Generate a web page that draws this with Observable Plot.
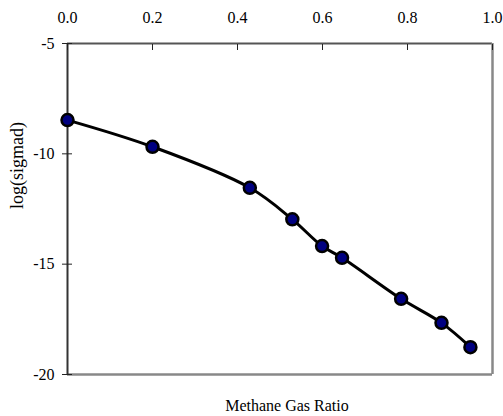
<!DOCTYPE html>
<html>
<head>
<meta charset="utf-8">
<script src="https://cdn.jsdelivr.net/npm/d3@7"></script>
<script src="https://cdn.jsdelivr.net/npm/@observablehq/plot@0.6"></script>
<style>
  html, body { margin: 0; padding: 0; background: #fff; }
  #chart svg { display: block; overflow: visible; }
</style>
</head>
<body>
<div id="chart"></div>
<script>
// Data
const methaneRatio = [0.0, 0.2, 0.429, 0.529, 0.599, 0.646, 0.785, 0.880, 0.948];
const logSigmad   = [-8.47, -9.68, -11.54, -12.97, -14.18, -14.71, -16.57, -17.66, -18.76];
const xTicks = [0.0, 0.2, 0.4, 0.6, 0.8, 1.0];
const yTicks = [-5, -10, -15, -20];
const xTitle = "Methane Gas Ratio";
const yTitle = "log(sigmad)";

const data = methaneRatio.map((x, i) => ({x, y: logSigmad[i]}));
const serif = "Liberation Serif";

const chart = Plot.plot({
  width: 503,
  height: 416,
  marginLeft: 67,
  marginRight: 11,
  marginTop: 43,
  marginBottom: 42,
  style: {fontFamily: serif, fontSize: "16px", color: "#000", background: "#fff"},
  x: {domain: [0, 1]},
  y: {domain: [-20, -5]},
  marks: [
    // frame sides
    Plot.ruleY([-5], {stroke: "#555", strokeWidth: 2}),
    Plot.ruleX([1], {stroke: "#888", strokeWidth: 2.5}),
    Plot.ruleY([-20], {stroke: "#888", strokeWidth: 2.5}),
    Plot.ruleX([0], {stroke: "#333", strokeWidth: 2}),
    // x axis on top: labels + inward ticks
    Plot.axisX(xTicks, {anchor: "top", tickSize: 0, tickPadding: 21, tickFormat: d3.format(".1f"), label: null, fontSize: 16, fontFamily: serif}),
    Plot.axisX(xTicks, {anchor: "top", tickSize: -6, tickFormat: () => "", label: null, stroke: "#222"}),
    // y axis: labels + crossing ticks
    Plot.axisY(yTicks, {anchor: "left", tickSize: 5, tickPadding: 8, tickFormat: d => String(d), fontSize: 16, fontFamily: serif,
      label: null, stroke: "#222"}),
    Plot.axisY(yTicks, {anchor: "left", tickSize: -5, tickFormat: () => "", label: null, stroke: "#222"}),
    // y title (rotated) left of the frame
    Plot.text([yTitle], {frameAnchor: "left", dx: -50, rotate: -90, fontSize: 18, fontFamily: serif, lineAnchor: "middle"}),
    // x title below the frame
    Plot.text([xTitle], {frameAnchor: "bottom", dy: 31, dx: 7, fontSize: 16, fontFamily: serif, lineAnchor: "middle"}),
    // curve and points
    Plot.line(data, {x: "x", y: "y", curve: "catmull-rom", stroke: "#000", strokeWidth: 3}),
    Plot.dot(data, {x: "x", y: "y", r: 6, fill: "#000080", stroke: "#000", strokeWidth: 2.5})
  ]
});
document.getElementById("chart").appendChild(chart);
</script>
</body>
</html>
